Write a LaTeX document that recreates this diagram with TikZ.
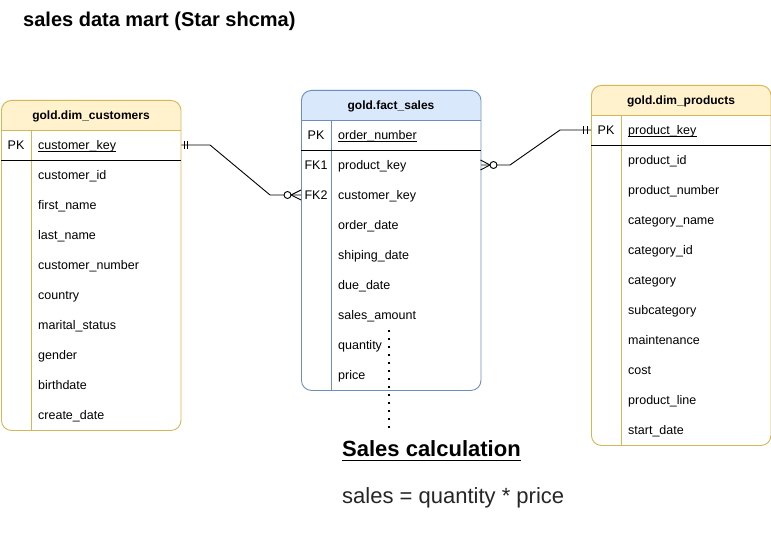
\documentclass[tikz,border=0pt]{standalone}
\usepackage{fontspec}
\setmainfont{Liberation Sans}
\definecolor{yfill}{HTML}{FFF2CC}
\definecolor{ystroke}{HTML}{D6B656}
\definecolor{bfill}{HTML}{DAE8FC}
\definecolor{bstroke}{HTML}{6C8EBF}
\tikzset{
 tbl/.style={draw=#1, rounded corners=10pt, anchor=north west, inner sep=0pt, minimum width=179.5pt, line width=0.9pt},
 hdr/.style={anchor=base, font=\bfseries\fontsize{12}{14}\selectfont, inner sep=0pt},
 fld/.style={anchor=base west, font=\fontsize{12.5}{15}\selectfont, inner sep=0pt},
 keylbl/.style={anchor=base, font=\fontsize{12.5}{15}\selectfont, inner sep=0pt},
 rel/.style={line width=0.9pt, black},
 sepline/.style={line width=0.9pt},
 ulline/.style={line width=0.9pt},
}
\begin{document}
\begin{tikzpicture}[x=1pt,y=-1pt]
\useasboundingbox[fill=white] (0,0) rectangle (771,553);

% title
\node[anchor=base west, inner sep=0pt, font=\bfseries\fontsize{20}{24}\selectfont] (title) at (23,26.5) {sales data mart (Star shcma)};

% ---------- customers ----------
\begin{scope}
\clip (1,100) rectangle (181,130);
\fill[yfill, rounded corners=10pt] (1,100) rectangle (180.5,430);
\end{scope}
\node[tbl=ystroke, minimum height=330pt] (cust) at (1,100) {};
\draw[sepline, ystroke] (1,130) -- (180.5,130);
\draw[sepline, ystroke] (31,130) -- (31,430);
\draw[sepline, black] (1,160) -- (180.5,160);
\node[hdr] (custhdr) at (91,119.5) {gold.dim\_customers};
\node[keylbl] (custpk) at (16,149.5) {PK};
\node[fld] (custkey) at (38,149.5) {customer\_key};
\draw[ulline] ([yshift=-1.8pt]custkey.base west) -- ([yshift=-1.8pt]custkey.base east);
\foreach [count=\i] \t in {customer\_id, first\_name, last\_name, customer\_number, country, marital\_status, gender, birthdate, create\_date}
  \node[fld] (cust\i) at (38,149.5+30*\i) {\t};

% ---------- fact ----------
\begin{scope}
\clip (301,90) rectangle (481,120);
\fill[bfill, rounded corners=10pt] (301,90) rectangle (480.5,390);
\end{scope}
\node[tbl=bstroke, minimum height=300pt] (fact) at (301,90) {};
\draw[sepline, bstroke] (301,120) -- (480.5,120);
\draw[sepline, bstroke] (331,120) -- (331,390);
\draw[sepline, black] (301,150) -- (480.5,150);
\node[hdr] (facthdr) at (391,109.5) {gold.fact\_sales};
\node[keylbl] (factpk) at (316,139.5) {PK};
\node[fld] (factkey) at (338,139.5) {order\_number};
\draw[ulline] ([yshift=-1.8pt]factkey.base west) -- ([yshift=-1.8pt]factkey.base east);
\node[keylbl] (factfkone) at (316,169.5) {FK1};
\node[keylbl] (factfktwo) at (316,199.5) {FK2};
\foreach [count=\i] \t in {product\_key, customer\_key, order\_date, shiping\_date, due\_date, sales\_amount, quantity, price}
  \node[fld] (fact\i) at (338,139.5+30*\i) {\t};

% ---------- products ----------
\begin{scope}
\clip (591,85) rectangle (771,115);
\fill[yfill, rounded corners=10pt] (591,85) rectangle (770.5,445);
\end{scope}
\node[tbl=ystroke, minimum height=360pt] (prod) at (591,85) {};
\draw[sepline, ystroke] (591,115) -- (770.5,115);
\draw[sepline, ystroke] (621,115) -- (621,445);
\draw[sepline, black] (591,145) -- (770.5,145);
\node[hdr] (prodhdr) at (681,104.5) {gold.dim\_products};
\node[keylbl] (prodpk) at (606,134.5) {PK};
\node[fld] (prodkey) at (628,134.5) {product\_key};
\draw[ulline] ([yshift=-1.8pt]prodkey.base west) -- ([yshift=-1.8pt]prodkey.base east);
\foreach [count=\i] \t in {product\_id, product\_number, category\_name, category\_id, category, subcategory, maintenance, cost, product\_line, start\_date}
  \node[fld] (prod\i) at (628,134.5+30*\i) {\t};

% ---------- relation customers -> fact ----------
\draw[rel] (cust.east |- 0,145) -- (210,145) -- (270,195) -- (fact.west |- 0,195);
\draw[rel] (184,141) -- (184,149) (187,141) -- (187,149);
\draw[rel] (291,195) -- (301,190) (291,195) -- (301,200);
\draw[rel, fill=white] (287.5,195) circle (3.5pt);

% ---------- relation fact -> products ----------
\draw[rel] (fact.east |- 0,165) -- (510,165) -- (560,130) -- (prod.west |- 0,130);
\draw[rel] (583,126) -- (583,134) (587,126) -- (587,134);
\draw[rel] (490,165) -- (480.5,160) (490,165) -- (480.5,170);
\draw[rel, fill=white] (493.5,165) circle (3.5pt);

% ---------- dotted line & calculation ----------
\coordinate (dotA) at (389,330);
\coordinate (dotB) at (389,428);
\draw[line width=1.8pt, dash pattern=on 1.8pt off 6.2pt] (dotA) -- (dotB);
\node[anchor=base west, inner sep=0pt, font=\bfseries\fontsize{22}{26}\selectfont] (calc) at (342,456.5) {Sales calculation};
\draw[line width=1.8pt] ([yshift=-4pt]calc.base west) -- ([yshift=-4pt]calc.base east);
\node[anchor=base west, inner sep=0pt, font=\fontsize{22}{26}\selectfont, text=black!85] (formula) at (342,503) {sales = quantity * price};
\end{tikzpicture}
\end{document}
